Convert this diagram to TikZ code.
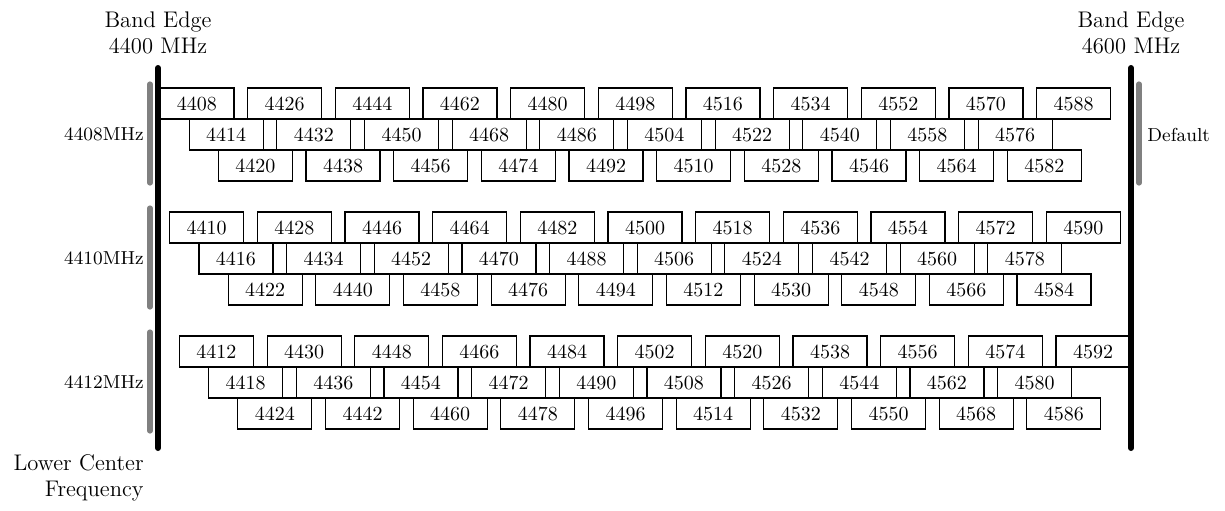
\documentclass[tikz,border=0pt]{standalone}
\begin{document}
\begin{tikzpicture}[x=0.5pt,y=-0.5pt,
  box/.style={draw, line width=0.6pt, minimum width=37pt, minimum height=15.5pt, inner sep=0pt, font=\fontsize{10}{12}\selectfont},
  edgeline/.style={line width=3pt, line cap=round, black},
  graybar/.style={line width=2.6pt, line cap=round, gray},
  lbl/.style={inner sep=0pt, font=\fontsize{9.4}{11}\selectfont},
  big/.style={inner sep=0pt, align=center, font=\fontsize{11.3}{12.8}\selectfont}]
\useasboundingbox (0,0) rectangle (1225,510);
% band edges
\coordinate (lt) at (158,68);
\coordinate (lb) at (158,448);
\coordinate (rt) at (1131,68);
\coordinate (rb) at (1131,448);
\draw[edgeline] (lt) -- (lb);
\draw[edgeline] (rt) -- (rb);
\node[big] (bel) at (158,33) {Band Edge\\4400 MHz};
\node[big] (ber) at (1131,33) {Band Edge\\4600 MHz};
\node[big, align=right, anchor=east] (lcf) at (144,478) {Lower Center\\Frequency};
% boxes
\foreach \g in {0,1,2} {
  \foreach \r in {0,1,2} {
    \pgfmathtruncatemacro\nb{\r==0 ? 10 : 9}
    \foreach \k in {0,...,\nb} {
      \pgfmathtruncatemacro\f{4408+2*\g+6*\r+18*\k}
      \node[box] (b\f) at ({158+(\f-4400)*4.87}, {88+124*\g+15.5+31*\r}) {\f};
    }
  }
  \pgfmathtruncatemacro\lf{4408+2*\g}
  \coordinate (gt\g) at (150, {84+124*\g});
  \coordinate (gb\g) at (150, {183+124*\g});
  \draw[graybar] (gt\g) -- (gb\g);
  \node[lbl, anchor=east] (gl\g) at (144, {134.5+124*\g}) {\lf MHz};
}
\coordinate (dt) at (1139,84);
\coordinate (db) at (1139,183);
\draw[graybar] (dt) -- (db);
\node[lbl, anchor=west] (def) at (1147,134.5) {Default};
\end{tikzpicture}
\end{document}
